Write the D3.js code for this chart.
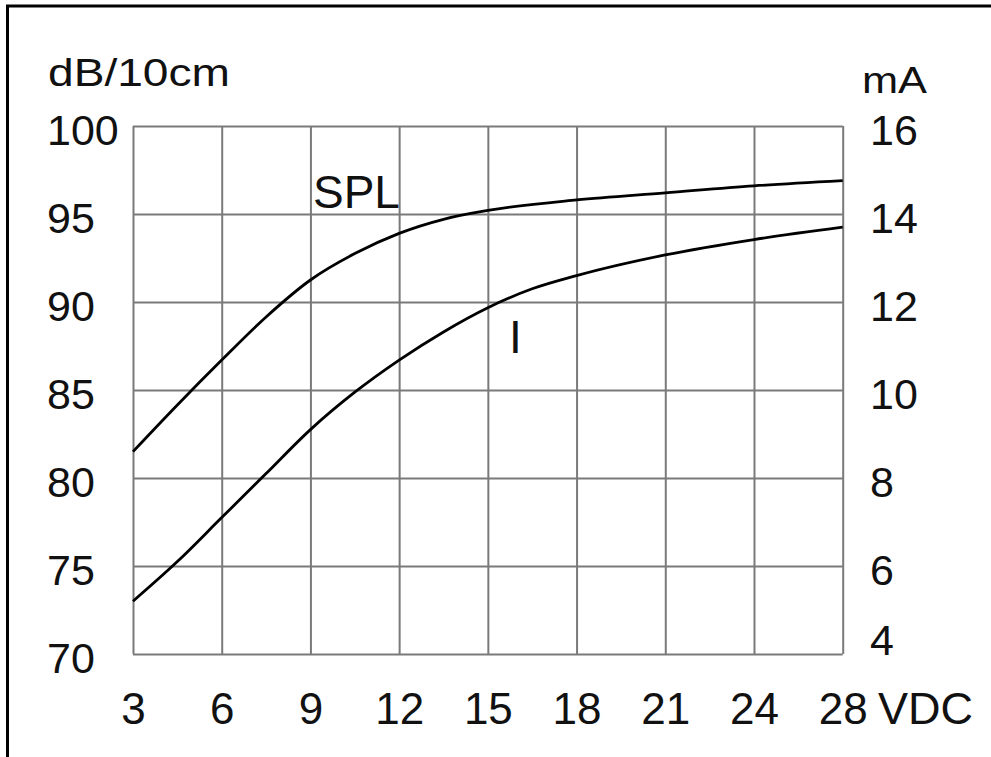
<!DOCTYPE html>
<html>
<head>
<meta charset="utf-8">
<script src="https://cdn.jsdelivr.net/npm/d3@7"></script>
<style>
  html, body { margin: 0; padding: 0; background: #fff; }
  svg { display: block; }
  text { font-family: "Liberation Sans", Arial, sans-serif; fill: #111; }
</style>
</head>
<body>
<svg id="chart" width="991" height="757"></svg>
<script>
// ---- data ----
const voltTicks = [3, 6, 9, 12, 15, 18, 21, 24, 28];
const dbTicks = [70, 75, 80, 85, 90, 95, 100];
const maTicks = [4, 6, 8, 10, 12, 14, 16];

const splVolts = [3, 4.5, 6, 7.5, 9, 10.5, 12, 13.5, 15, 18, 21, 24, 28];
const splDb    = [81.5, 84.15, 86.7, 89.15, 91.25, 92.75, 93.9, 94.7, 95.2, 95.8, 96.2, 96.6, 96.9];

const curVolts = [3, 4.5, 6, 7.5, 9, 10.5, 12, 13.5, 15, 16.5, 18, 21, 24, 28];
const curMa    = [5.2, 6.1, 7.1, 8.1, 9.1, 9.95, 10.68, 11.32, 11.87, 12.3, 12.6, 13.07, 13.42, 13.7];

// ---- layout ----
const svg = d3.select("#chart");
const L = 133, R = 842.7, T = 126, B = 654;

const x = d3.scaleLinear().domain([3, 24, 28]).range([L, L + (R - L) * 7 / 8, R]);
const yL = d3.scaleLinear().domain([70, 100]).range([B, T]);
const yR = d3.scaleLinear().domain([4, 16]).range([B, T]);

// outer frame
svg.append("rect").attr("x", 7.5).attr("y", 6).attr("width", 1200).attr("height", 1200)
  .attr("fill", "none").attr("stroke", "#000").attr("stroke-width", 3);

// grid
const gridColor = "#7a7a7a";
const gx = svg.append("g").attr("transform", `translate(0,${B})`)
  .call(d3.axisBottom(x).tickValues(voltTicks).tickSize(-(B - T)).tickFormat(""));
const gy = svg.append("g").attr("transform", `translate(${L},0)`)
  .call(d3.axisLeft(yL).tickValues(dbTicks).tickSize(-(R - L)).tickFormat(""));
[gx, gy].forEach(g => {
  g.select(".domain").remove();
  g.selectAll("line").attr("stroke", gridColor).attr("stroke-width", 2);
});

// axis labels
const ax = svg.append("g").attr("transform", `translate(0,${B})`)
  .call(d3.axisBottom(x).tickValues(voltTicks).tickSize(0).tickPadding(0).tickFormat(d3.format("d")));
ax.select(".domain").remove();
ax.selectAll("text").attr("font-size", 44).attr("y", 70).attr("dy", 0)
  .attr("font-family", "Liberation Sans, Arial, sans-serif").attr("fill", "#111");

const al = svg.append("g").attr("transform", `translate(${L},0)`)
  .call(d3.axisLeft(yL).tickValues(dbTicks).tickSize(0).tickPadding(0));
al.select(".domain").remove();
al.selectAll("text").attr("font-size", 43).attr("text-anchor", "start").attr("x", 47 - L)
  .attr("dy", "0.42em")
  .attr("font-family", "Liberation Sans, Arial, sans-serif").attr("fill", "#111");

const ar = svg.append("g").attr("transform", `translate(${R},0)`)
  .call(d3.axisRight(yR).tickValues(maTicks).tickSize(0).tickPadding(0));
ar.select(".domain").remove();
ar.selectAll("text").attr("font-size", 43).attr("text-anchor", "start").attr("x", 870 - R)
  .attr("dy", d => d === 4 ? "0.0em" : "0.42em")
  .attr("font-family", "Liberation Sans, Arial, sans-serif").attr("fill", "#111");

// unit labels
svg.append("text").attr("x", 48).attr("y", 86).attr("font-size", 39)
  .attr("textLength", 182).attr("lengthAdjust", "spacingAndGlyphs").text("dB/10cm");
svg.append("text").attr("x", 862).attr("y", 93).attr("font-size", 36)
  .attr("textLength", 65).attr("lengthAdjust", "spacingAndGlyphs").text("mA");
svg.append("text").attr("x", 878).attr("y", 724).attr("font-size", 45).text("VDC");

// curves
const splLine = d3.line().x(d => x(d[0])).y(d => yL(d[1])).curve(d3.curveMonotoneX);
const curLine = d3.line().x(d => x(d[0])).y(d => yR(d[1])).curve(d3.curveMonotoneX);
svg.append("path").datum(d3.zip(splVolts, splDb)).attr("d", splLine)
  .attr("fill", "none").attr("stroke", "#000").attr("stroke-width", 2.8);
svg.append("path").datum(d3.zip(curVolts, curMa)).attr("d", curLine)
  .attr("fill", "none").attr("stroke", "#000").attr("stroke-width", 2.8);

// curve labels
svg.append("text").attr("x", 313).attr("y", 208).attr("font-size", 46).text("SPL");
svg.append("text").attr("x", 509).attr("y", 353).attr("font-size", 46).text("I");
</script>
</body>
</html>
